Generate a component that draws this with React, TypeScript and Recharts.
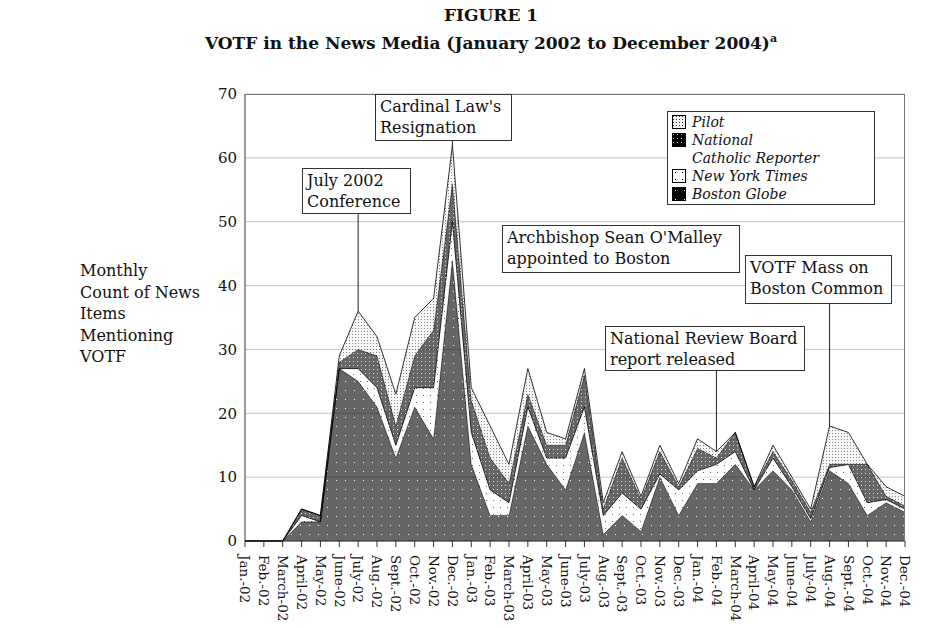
import React from 'react';
import { AreaChart, Area, XAxis, YAxis, CartesianGrid, ReferenceLine } from 'recharts';

const months = ['Jan.-02','Feb.-02','March-02','April-02','May-02','June-02','July-02','Aug.-02','Sept.-02','Oct.-02','Nov.-02','Dec.-02',
'Jan.-03','Feb.-03','March-03','April-03','May-03','June-03','July-03','Aug.-03','Sept.-03','Oct.-03','Nov.-03','Dec.-03',
'Jan.-04','Feb.-04','March-04','April-04','May-04','June-04','July-04','Aug.-04','Sept.-04','Oct.-04','Nov.-04','Dec.-04'];
const bostonGlobe = [0,0,0,3,3,27,25,21,13,21,16,44, 12,4,4,18,12,8,17,1,4,1.5,10,4, 9,9,12,8,11,8,3,11,9,4,6,4.5];
const nyTimes =     [0,0,0,1,0,0,2,3,2,3,8,6, 5,4,2,3,1,5,4,3,3.5,3.5,0.5,4, 2,3,2,0,2,0.5,0.5,0.5,3,2,0.5,0.5];
const ncReporter =  [0,0,0,1,1,1,3,5,3,5,9,6, 5,5,3,2,2,2,5,1,5.5,1.5,3.5,0.5, 3.5,1,3,0.5,1,1,1,0.5,0,6,0.5,0.5];
const pilot =       [0,0,0,0,0,1,6,3,5,6,5,6, 2,5,3,4,2,1,1,1,1,0.5,1,0.5, 1.5,1,0,0,1,0.5,0.5,6,5,0,1.5,1.5];
const yTicks = [0,10,20,30,40,50,60,70];

const data = months.map((m, i) => ({ m, bg: bostonGlobe[i], nyt: nyTimes[i], ncr: ncReporter[i], pilot: pilot[i] }));

const serif = '"DejaVu Serif", serif';

const Patterns = () => (
  <defs>
    <pattern id="pBG" width="9" height="9" patternUnits="userSpaceOnUse">
      <rect width="9" height="9" fill="#000" /><rect x="3" y="3" width="1" height="1" fill="#fff" />
    </pattern>
    <pattern id="pNYT" width="7" height="7" patternUnits="userSpaceOnUse">
      <rect width="7" height="7" fill="#fff" /><rect x="3" y="3" width="1" height="1" fill="#000" />
    </pattern>
    <pattern id="pNCR" width="4" height="4" patternUnits="userSpaceOnUse">
      <rect width="4" height="4" fill="#000" /><rect x="1" y="1" width="1" height="1" fill="#ccc" />
    </pattern>
    <pattern id="pPilot" width="3" height="3" patternUnits="userSpaceOnUse">
      <rect width="3" height="3" fill="#f2f2f2" /><rect x="1" y="1" width="1" height="1" fill="#333" />
    </pattern>
  </defs>
);

const Swatch = ({ id }: { id: string }) => (
  <svg width="14" height="14" style={{ marginRight: 6, flexShrink: 0 }}>
    <Patterns />
    <rect x="0.5" y="0.5" width="13" height="13" fill={`url(#${id})`} stroke="#000" />
  </svg>
);

const Box = ({ x, y, w, h, children }: any) => (
  <div style={{ position: 'absolute', left: x, top: y, width: w, height: h, border: '1px solid #333', background: '#fff',
    fontFamily: serif, fontSize: 16, lineHeight: '21px', padding: '1px 4px', boxSizing: 'border-box', color: '#111' }}>{children}</div>
);

const Tick = ({ x, y, payload }: any) => (
  <text x={x} y={y + 6} transform={`rotate(90 ${x} ${y + 6})`} dy="0.35em" textAnchor="start"
    fontFamily={serif} fontSize={13.5} fill="#111">{payload.value}</text>
);

export default function App() {
  return (
    <div style={{ position: 'absolute', left: 0, top: 0, width: 942, height: 628, background: '#fff' }}>
      <div style={{ position: 'absolute', top: 4, width: 942, paddingLeft: 40, boxSizing: 'border-box', textAlign: 'center', fontFamily: serif, fontWeight: 'bold', fontSize: 17, lineHeight: '23px', color: '#111' }}>
        FIGURE 1<br />VOTF in the News Media (January 2002 to December 2004)<sup style={{ fontSize: 11 }}>a</sup>
      </div>
      <div style={{ position: 'absolute', left: 80, top: 260, fontFamily: serif, fontSize: 16, lineHeight: '21.5px', color: '#111' }}>
        Monthly<br />Count of News<br />Items<br />Mentioning<br />VOTF
      </div>
      <AreaChart width={942} height={628} data={data} margin={{ top: 94, left: 205, right: 37, bottom: 0 }}>
        <Patterns />
        <CartesianGrid vertical={false} stroke="#aaa" strokeWidth={0.7} />
        <XAxis dataKey="m" interval={0} tick={<Tick />} height={87} tickLine={{ stroke: '#333' }} axisLine={{ stroke: '#333' }} />
        <YAxis domain={[0, 70]} ticks={yTicks} width={40} tickLine={false} axisLine={{ stroke: '#333' }}
          tick={{ fontFamily: serif, fontSize: 15, fill: '#111' }} />
        <Area type="linear" dataKey="bg" stackId="s" fill="url(#pBG)" stroke="#000" strokeWidth={0.8} isAnimationActive={false} />
        <Area type="linear" dataKey="nyt" stackId="s" fill="url(#pNYT)" stroke="#000" strokeWidth={0.8} isAnimationActive={false} />
        <Area type="linear" dataKey="ncr" stackId="s" fill="url(#pNCR)" stroke="#000" strokeWidth={0.8} isAnimationActive={false} />
        <Area type="linear" dataKey="pilot" stackId="s" fill="url(#pPilot)" stroke="#000" strokeWidth={0.8} isAnimationActive={false} />
        <ReferenceLine segment={[{ x: 'July-02', y: 36 }, { x: 'July-02', y: 51.4 }]} stroke="#222" />
        <ReferenceLine segment={[{ x: 'Dec.-02', y: 62 }, { x: 'Dec.-02', y: 62.8 }]} stroke="#222" />
        <ReferenceLine segment={[{ x: 'Feb.-04', y: 14 }, { x: 'Feb.-04', y: 26.8 }]} stroke="#222" />
        <ReferenceLine segment={[{ x: 'Aug.-04', y: 18 }, { x: 'Aug.-04', y: 37.3 }]} stroke="#222" />
      </AreaChart>
      <div style={{ position: 'absolute', left: 245, top: 94, width: 660, height: 447, border: '1px solid #777', borderLeft: 'none', borderBottom: 'none', boxSizing: 'border-box', pointerEvents: 'none' }} />
      <Box x={302} y={168} w={109} h={46}>July 2002<br />Conference</Box>
      <Box x={375} y={94} w={137} h={47}>Cardinal Law's<br />Resignation</Box>
      <Box x={502} y={225} w={238} h={48}>Archbishop Sean O'Malley<br />appointed to Boston</Box>
      <Box x={605} y={326} w={200} h={45}>National Review Board<br />report released</Box>
      <Box x={745} y={255} w={147} h={49}>VOTF Mass on<br />Boston Common</Box>
      <div style={{ position: 'absolute', left: 667, top: 111, width: 208, height: 94, border: '1px solid #333', background: '#fff', boxSizing: 'border-box',
        fontFamily: serif, fontStyle: 'italic', fontSize: 14, lineHeight: '18px', color: '#111', padding: '1px 4px' }}>
        <div style={{ display: 'flex', alignItems: 'center' }}><Swatch id="pPilot" />Pilot</div>
        <div style={{ display: 'flex', alignItems: 'center' }}><Swatch id="pNCR" />National</div>
        <div style={{ paddingLeft: 20 }}>Catholic Reporter</div>
        <div style={{ display: 'flex', alignItems: 'center' }}><Swatch id="pNYT" />New York Times</div>
        <div style={{ display: 'flex', alignItems: 'center' }}><Swatch id="pBG" />Boston Globe</div>
      </div>
    </div>
  );
}
